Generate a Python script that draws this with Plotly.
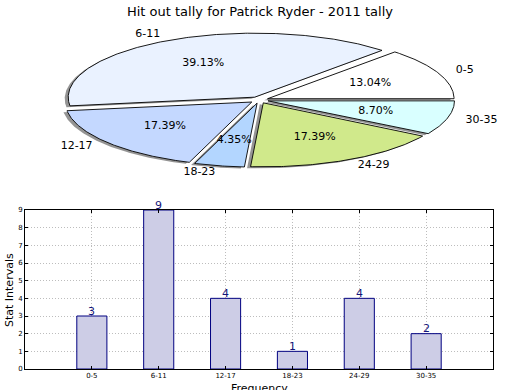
import numpy as np
import plotly.graph_objects as go

# ---------------- data ----------------
categories = ["0-5", "6-11", "12-17", "18-23", "24-29", "30-35"]
tally = [3, 9, 4, 1, 4, 2]
slice_colors = ["#ffffff", "#eaf2ff", "#c4d8ff", "#b3d6ff", "#d0e98b", "#d9ffff"]
title_text = "Hit out tally for Patrick Ryder - 2011 tally"
y_ticks = list(range(10))

FONT = "DejaVu Sans"
W, H = 520, 390

# ---------------- pie geometry (squashed, matplotlib-like) ----------------
CX, CY = 259.0, 100.0       # pixel centre in pie axes
RX, RY = 186.5, 64.0        # ellipse radii
EXPLODE = 0.05
SH_DX, SH_DY = -3.5, 1.5    # shadow offset
PIE_H = 200                 # height of pie region in px

total = float(sum(tally))
fig = go.Figure()

angles = []
a = 0.0
for v in tally:
    a1 = a + 360.0 * v / total
    angles.append((a, a1))
    a = a1

def wedge(a0, a1, dx=0.0, dy=0.0):
    mid = np.deg2rad((a0 + a1) / 2)
    ox = CX + EXPLODE * RX * np.cos(mid) + dx
    oy = CY - EXPLODE * RY * np.sin(mid) + dy
    t = np.deg2rad(np.linspace(a0, a1, max(8, int((a1 - a0) * 2))))
    xs = np.concatenate([[ox], ox + RX * np.cos(t), [ox]])
    ys = np.concatenate([[oy], oy - RY * np.sin(t), [oy]])
    return xs, ys

# shadows first
for (a0, a1) in angles:
    xs, ys = wedge(a0, a1, SH_DX, SH_DY)
    fig.add_trace(go.Scatter(x=xs, y=ys, mode="lines", fill="toself",
                             fillcolor="rgba(60,60,60,0.55)",
                             line=dict(width=0), xaxis="x2", yaxis="y2",
                             hoverinfo="skip", showlegend=False))
for (a0, a1), col in zip(angles, slice_colors):
    xs, ys = wedge(a0, a1)
    fig.add_trace(go.Scatter(x=xs, y=ys, mode="lines", fill="toself",
                             fillcolor=col, line=dict(color="black", width=0.9),
                             xaxis="x2", yaxis="y2", hoverinfo="skip",
                             showlegend=False))

# labels
pct_x, pct_y, lab_r_x, lab_r_y, lab_r_t, lab_l_x, lab_l_y, lab_l_t = [], [], [], [], [], [], [], []
for (a0, a1), cat, v in zip(angles, categories, tally):
    mid = np.deg2rad((a0 + a1) / 2)
    c, s = np.cos(mid), np.sin(mid)
    pct_x.append(CX + (0.6 + EXPLODE) * RX * c)
    pct_y.append(CY - (0.6 + EXPLODE) * RY * s)
    lx = CX + (1.1 + EXPLODE) * RX * c
    ly = CY - (1.1 + EXPLODE) * RY * s
    if c >= 0:
        lab_r_x.append(lx); lab_r_y.append(ly); lab_r_t.append(cat)
    else:
        lab_l_x.append(lx); lab_l_y.append(ly); lab_l_t.append(cat)

pct_text = ["%.2f%%" % (100.0 * v / total) for v in tally]
fig.add_trace(go.Scatter(x=pct_x, y=pct_y, text=pct_text, mode="text",
                         textposition="middle center",
                         textfont=dict(family=FONT, size=11, color="black"),
                         xaxis="x2", yaxis="y2", hoverinfo="skip", showlegend=False))
fig.add_trace(go.Scatter(x=lab_r_x, y=lab_r_y, text=lab_r_t, mode="text",
                         textposition="middle right",
                         textfont=dict(family=FONT, size=11, color="black"),
                         xaxis="x2", yaxis="y2", hoverinfo="skip", showlegend=False,
                         cliponaxis=False))
fig.add_trace(go.Scatter(x=lab_l_x, y=lab_l_y, text=lab_l_t, mode="text",
                         textposition="middle left",
                         textfont=dict(family=FONT, size=11, color="black"),
                         xaxis="x2", yaxis="y2", hoverinfo="skip", showlegend=False,
                         cliponaxis=False))

# ---------------- bar chart ----------------
fig.add_trace(go.Bar(x=categories, y=tally, width=0.45,
                     marker=dict(color="#cdcde6", line=dict(color="#000080", width=1)),
                     xaxis="x", yaxis="y", showlegend=False, hoverinfo="skip"))

bar_labels = [dict(x=c, y=v, text=str(v), xref="x", yref="y", showarrow=False,
                   xanchor="center", yanchor="middle", yshift=5,
                   font=dict(family=FONT, size=11, color="#15157a"))
              for c, v in zip(categories, tally)]

bx0, bx1 = 25 / W, 493 / W
by0, by1 = 1 - 369 / H, 1 - 210 / H

grid = dict(showgrid=True, gridcolor="#bdbdbd", griddash="1px,2px", gridwidth=1)

fig.update_layout(
    template="none",
    width=W, height=H, autosize=False,
    margin=dict(l=0, r=0, t=0, b=0),
    paper_bgcolor="white", plot_bgcolor="white",
    font=dict(family=FONT, color="black"),
    title=dict(text=title_text, x=0.5, xanchor="center", y=1 - 11 / H,
               yanchor="middle", font=dict(family=FONT, size=13, color="black")),
    xaxis=dict(domain=[bx0, bx1], type="category", range=[-1, 6], **grid,
               showline=True, linecolor="black", linewidth=1, mirror="ticks",
               ticks="inside", ticklen=3, tickcolor="black",
               tickfont=dict(family=FONT, size=7, color="black"),
               zeroline=False, automargin=False, fixedrange=True),
    yaxis=dict(domain=[by0, by1], range=[0, 9], tickvals=y_ticks, **grid,
               showline=True, linecolor="black", linewidth=1, mirror="ticks",
               ticks="inside", ticklen=3, tickcolor="black",
               tickfont=dict(family=FONT, size=7, color="black"),
               zeroline=False, automargin=False, fixedrange=True),
    xaxis2=dict(domain=[0, 1], range=[0, W], visible=False, showgrid=False,
                zeroline=False, anchor="y2", fixedrange=True),
    yaxis2=dict(domain=[1 - PIE_H / H, 1], range=[PIE_H, 0], visible=False,
                showgrid=False, zeroline=False, anchor="x2", fixedrange=True),
    annotations=bar_labels + [
        dict(text="Stat Intervals", x=9 / W, y=1 - 290 / H, xref="paper", yref="paper",
             textangle=-90, showarrow=False, xanchor="center", yanchor="middle",
             font=dict(family=FONT, size=11, color="black")),
        dict(text="Frequency", x=259 / W, y=1 - 388 / H, xref="paper", yref="paper",
             showarrow=False, xanchor="center", yanchor="middle",
             font=dict(family=FONT, size=11, color="black")),
    ],
)

fig.write_html("out.html", config={"displayModeBar": False},
               post_script="document.body.style.margin='0';document.body.style.overflow='hidden';")
